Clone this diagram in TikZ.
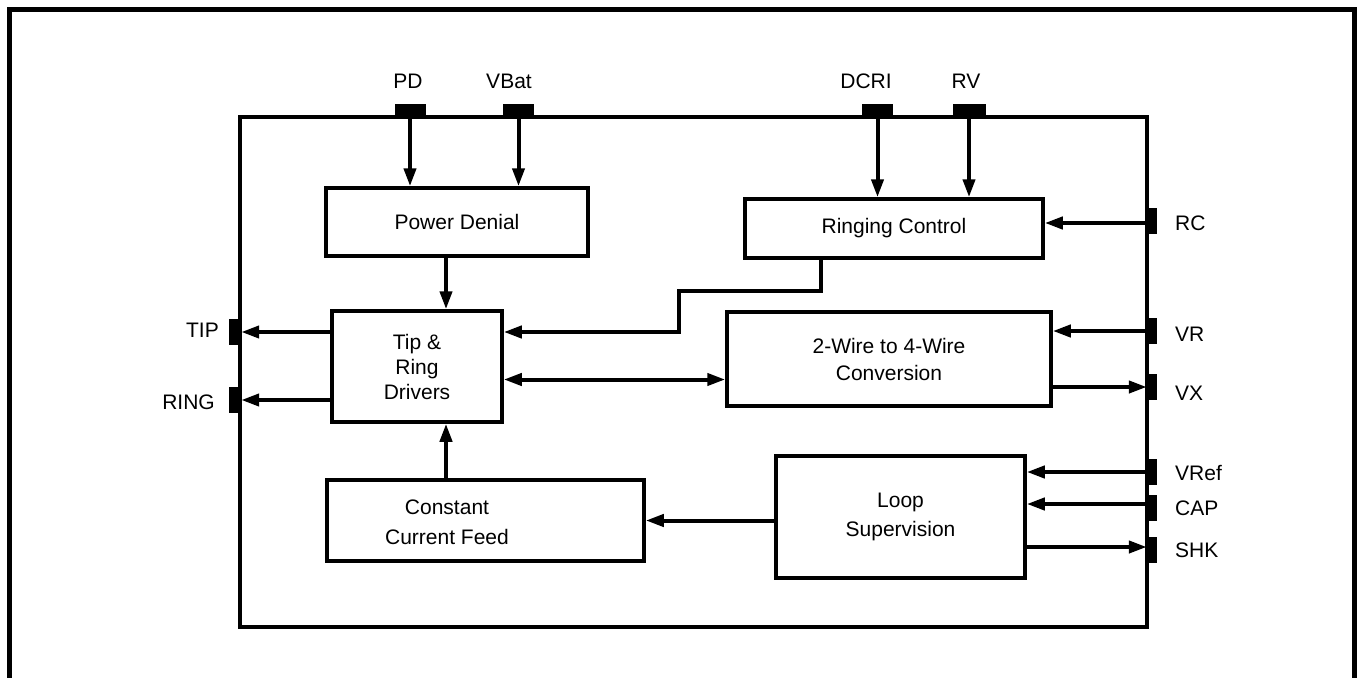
\documentclass[tikz,border=0pt]{standalone}
\usepackage{fontspec}
\setmainfont{Liberation Sans}
\usetikzlibrary{arrows.meta}
\begin{document}
\begin{tikzpicture}[x=1pt,y=-1pt,
  blk/.style={draw,line width=3.5pt,inner sep=0pt,align=center,font=\fontsize{21}{25}\selectfont},
  pin/.style={fill=black,inner sep=0pt},
  lbl/.style={inner sep=0pt,font=\fontsize{21}{24}\selectfont},
  conn/.style={line width=4pt,-{Triangle[length=18pt,width=12pt]}},
  conntwo/.style={line width=4pt,{Triangle[length=18pt,width=12pt]}-{Triangle[length=18pt,width=12pt]}},
  wire/.style={line width=4pt}]
\useasboundingbox (0,0) rectangle (1359,677);
% outer frame
\draw[line width=5pt] (9,700) -- (9,10) -- (1354,10) -- (1354,700);
% chip outline
\node[draw,line width=3.5pt,inner sep=0pt,minimum width=907pt,minimum height=510pt] (chip) at (693.5,372) {};
% blocks
\node[blk,minimum width=262pt,minimum height=68pt] (pdn) at (457,222) {Power Denial};
\node[blk,minimum width=298pt,minimum height=59pt] (rcb) at (894,228.5) {Ringing Control};
\node[blk,minimum width=170pt,minimum height=111pt,font=\fontsize{21}{25}\selectfont] (trd) at (417,366.5) {Tip \&\\Ring\\Drivers};
\node[blk,minimum width=324pt,minimum height=94pt,font=\fontsize{21}{27}\selectfont] (w24) at (889,359) {2-Wire to 4-Wire\\Conversion};
\node[blk,minimum width=317pt,minimum height=81pt] (ccf) at (485.5,520.5) {};
\node[inner sep=0pt,align=center,font=\fontsize{21}{30}\selectfont] (ccft) at (447,522) {Constant\\Current Feed};
\node[blk,minimum width=249pt,minimum height=122pt,font=\fontsize{21}{29}\selectfont] (lsv) at (900.5,517) {Loop\\Supervision};
% top pins
\node[pin,minimum width=31pt,minimum height=13pt] (pd) at (410,110.5) {};
\node[pin,minimum width=31pt,minimum height=13pt] (vbat) at (518.5,110.5) {};
\node[pin,minimum width=31pt,minimum height=13pt] (dcri) at (877.5,110.5) {};
\node[pin,minimum width=33pt,minimum height=13pt] (rv) at (969,110.5) {};
% right pins
\node[pin,minimum width=10pt,minimum height=26pt] (rcp) at (1152,221) {};
\node[pin,minimum width=10pt,minimum height=26pt] (vrp) at (1152,331) {};
\node[pin,minimum width=10pt,minimum height=26pt] (vxp) at (1152,387) {};
\node[pin,minimum width=10pt,minimum height=26pt] (vrefp) at (1152,472) {};
\node[pin,minimum width=10pt,minimum height=26pt] (capp) at (1152,508) {};
\node[pin,minimum width=10pt,minimum height=26pt] (shkp) at (1152,550) {};
% left pins
\node[pin,minimum width=12pt,minimum height=26pt] (tipp) at (235,332) {};
\node[pin,minimum width=12pt,minimum height=26pt] (ringp) at (235,400) {};
% labels
\node[lbl] (pdl) at (408,81) {PD};
\node[lbl] (vbatl) at (509,81) {VBat};
\node[lbl] (dcril) at (866,81) {DCRI};
\node[lbl] (rvl) at (966,81) {RV};
\node[lbl,anchor=west] (rcl) at (1175,223) {RC};
\node[lbl,anchor=west] (vrl) at (1175,334) {VR};
\node[lbl,anchor=west] (vxl) at (1175,393) {VX};
\node[lbl,anchor=west] (vrefl) at (1175,473) {VRef};
\node[lbl,anchor=west] (capl) at (1175,508) {CAP};
\node[lbl,anchor=west] (shkl) at (1175,550) {SHK};
\node[lbl,anchor=east] (tipl) at (219,330) {TIP};
\node[lbl,anchor=east] (ringl) at (215,402) {RING};
% connectors
\draw[conn] (pd.south) -- (pd.south |- pdn.north);
\draw[conn] (vbat.south) -- (vbat.south |- pdn.north);
\draw[conn] (dcri.south) -- (dcri.south |- rcb.north);
\draw[conn] (rv.south) -- (rv.south |- rcb.north);
\draw[conn] ([xshift=29pt]trd.north |- pdn.south) -- ([xshift=29pt]trd.north);
\draw[conn] ([xshift=29pt]trd.south |- ccf.north) -- ([xshift=29pt]trd.south);
\draw[conn] ([yshift=-2pt]rcp.west) -- ([yshift=-2pt]rcp.west -| rcb.east);
\coordinate (jog) at (679,291);
\draw[conn] ([xshift=-73pt]rcb.south) |- (jog) |- ([yshift=34.5pt]trd.east);
\draw[conn] (trd.west |- tipp.east) -- (tipp.east);
\draw[conn] (trd.west |- ringp.east) -- (ringp.east);
\draw[conntwo] ([yshift=-13pt]trd.east) -- ([yshift=-13pt]trd.east -| w24.west);
\draw[conn] (vrp.west) -- (vrp.west -| w24.east);
\draw[conn] (vxp.west -| w24.east) -- (vxp.west);
\draw[conn] (lsv.west |- ccf.east) -- (ccf.east);
\draw[conn] (vrefp.west) -- (vrefp.west -| lsv.east);
\draw[conn] ([yshift=4pt]capp.west) -- ([yshift=4pt]capp.west -| lsv.east);
\draw[conn] ([yshift=3pt]shkp.west -| lsv.east) -- ([yshift=3pt]shkp.west);
\end{tikzpicture}
\end{document}
